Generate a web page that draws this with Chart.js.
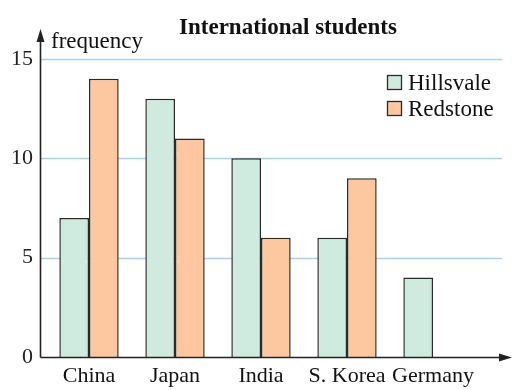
<!DOCTYPE html>
<html>
<head>
<meta charset="utf-8">
<script src="https://cdn.jsdelivr.net/npm/chart.js@4/dist/chart.umd.min.js"></script>
<style>
  html, body { margin: 0; padding: 0; background: #ffffff; }
  #wrap { width: 512px; height: 390px; position: relative; }
</style>
</head>
<body>
<div id="wrap"><canvas id="c" width="512" height="390"></canvas></div>
<script>
const categories = ["China", "Japan", "India", "S. Korea", "Germany"];
const hillsvale = [7, 13, 10, 6, 4];
const redstone = [14, 11, 6, 9, null];
const yTicks = [0, 5, 10, 15];
const chartTitle = "International students";
const yAxisLabel = "frequency";
const seriesNames = ["Hillsvale", "Redstone"];

const greenFill = "#cfeadf";
const orangeFill = "#fdc7a0";
const edge = "#2a2a2a";
const gridBlue = "#a9d3ea";
const serif = "'Liberation Serif', 'DejaVu Serif', serif";

const decorPlugin = {
  id: "decor",
  beforeDatasetsDraw(chart) {
    const ctx = chart.ctx;
    const y = chart.scales.y;
    const x0 = 41, x1 = 502;
    ctx.save();
    ctx.strokeStyle = gridBlue;
    ctx.lineWidth = 1.5;
    yTicks.forEach(v => {
      if (v === 0) return;
      const py = Math.round(y.getPixelForValue(v)) + 0.5;
      ctx.beginPath();
      ctx.moveTo(x0, py);
      ctx.lineTo(x1, py);
      ctx.stroke();
    });
    ctx.restore();
  },
  afterDatasetsDraw(chart) {
    const ctx = chart.ctx;
    const y = chart.scales.y;
    const ax = 40.5;
    const ay = Math.round(y.getPixelForValue(0)) + 0.5;
    ctx.save();
    ctx.strokeStyle = "#222";
    ctx.fillStyle = "#222";
    ctx.lineWidth = 1.6;
    // y axis
    ctx.beginPath();
    ctx.moveTo(ax, ay);
    ctx.lineTo(ax, 38);
    ctx.stroke();
    ctx.beginPath();
    ctx.moveTo(ax, 29);
    ctx.lineTo(ax - 4, 42);
    ctx.lineTo(ax + 4, 42);
    ctx.closePath();
    ctx.fill();
    // x axis
    ctx.beginPath();
    ctx.moveTo(ax, ay);
    ctx.lineTo(503, ay);
    ctx.stroke();
    ctx.beginPath();
    ctx.moveTo(512, ay);
    ctx.lineTo(499, ay - 4);
    ctx.lineTo(499, ay + 4);
    ctx.closePath();
    ctx.fill();

    // title
    ctx.font = "bold 23px " + serif;
    ctx.textAlign = "center";
    ctx.textBaseline = "alphabetic";
    ctx.fillStyle = "#111";
    ctx.fillText(chartTitle, 288, 34);

    // y axis label
    ctx.font = "23px " + serif;
    ctx.textAlign = "left";
    ctx.fillText(yAxisLabel, 51, 48);

    // legend
    const fills = [greenFill, orangeFill];
    seriesNames.forEach((name, i) => {
      const by = 75 + i * 26;
      ctx.fillStyle = fills[i];
      ctx.fillRect(387, by, 15, 15);
      ctx.strokeStyle = edge;
      ctx.lineWidth = 1.3;
      ctx.strokeRect(387.5, by + 0.5, 14, 14);
      ctx.fillStyle = "#111";
      ctx.font = "23px " + serif;
      ctx.textBaseline = "alphabetic";
      ctx.fillText(name, 408, by + 15);
    });
    ctx.restore();
  }
};

new Chart(document.getElementById("c"), {
  type: "bar",
  data: {
    labels: categories,
    datasets: [
      { label: seriesNames[0], data: hillsvale, backgroundColor: greenFill, borderColor: edge, borderWidth: 1.5, borderSkipped: "bottom" },
      { label: seriesNames[1], data: redstone, backgroundColor: orangeFill, borderColor: edge, borderWidth: 1.5, borderSkipped: "bottom" }
    ]
  },
  options: {
    responsive: false,
    animation: false,
    devicePixelRatio: 1,
    layout: { padding: { top: 59, right: 36, left: 0, bottom: 0 } },
    plugins: { legend: { display: false }, title: { display: false }, tooltip: { enabled: false } },
    datasets: { bar: { categoryPercentage: 0.69, barPercentage: 1.0 } },
    scales: {
      x: {
        grid: { display: false, drawTicks: false },
        border: { display: false },
        ticks: { color: "#111", font: { family: serif, size: 22 }, padding: 6, maxRotation: 0, autoSkip: false },
        afterFit(s) { s.height = 33; }
      },
      y: {
        min: 0, max: 15,
        grid: { display: false, drawTicks: false },
        border: { display: false },
        afterBuildTicks(s) { s.ticks = yTicks.map(v => ({ value: v })); },
        ticks: { color: "#222", font: { family: serif, size: 22 }, padding: 13 },
        afterFit(s) { s.width = 46; }
      }
    }
  },
  plugins: [decorPlugin]
});
</script>
</body>
</html>
